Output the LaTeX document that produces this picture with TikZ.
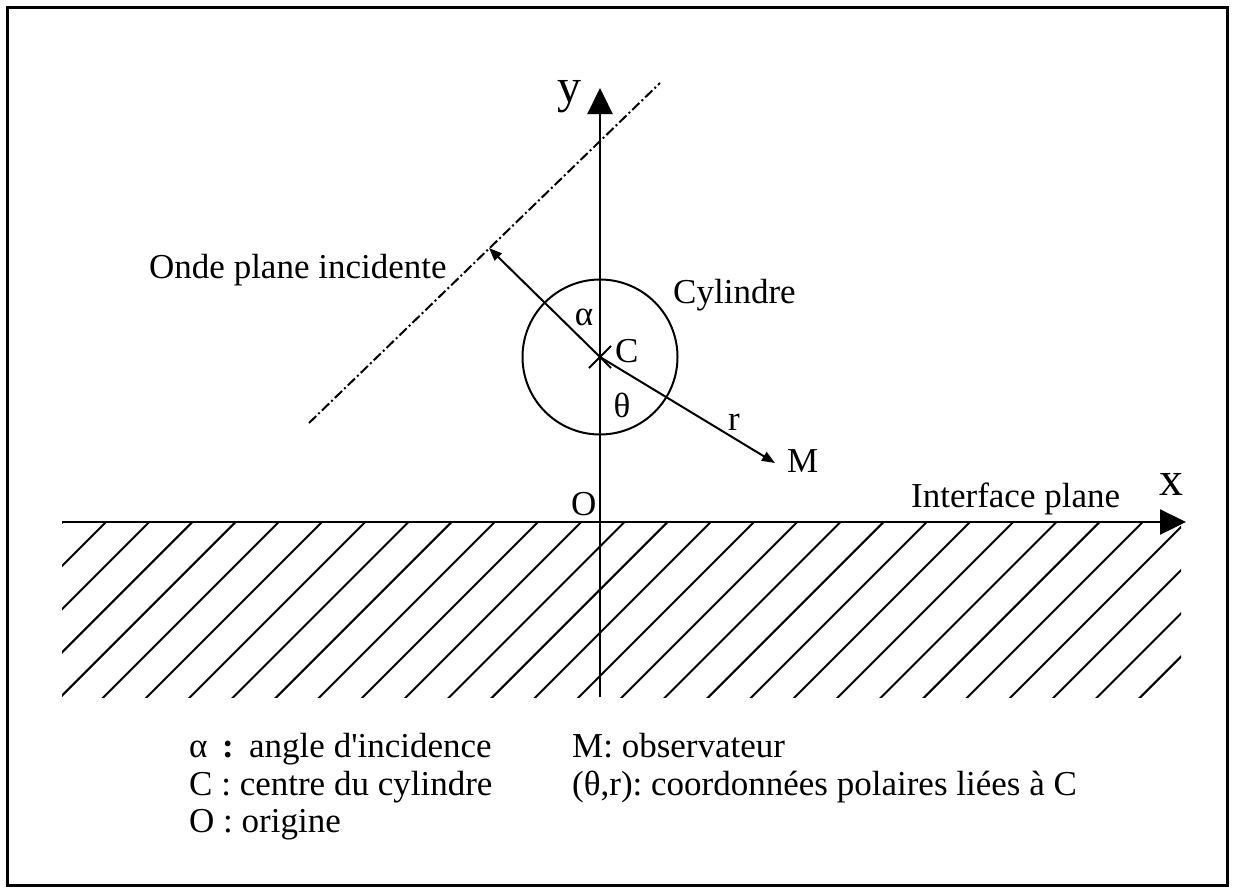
\documentclass[tikz,border=0pt]{standalone}
\usepackage{fontspec}
\setmainfont{Liberation Serif}[Ligatures=TeXOff]
\usetikzlibrary{arrows.meta}
\frenchspacing
\begin{document}
\begin{tikzpicture}[x=1pt,y=-1pt,
  axis/.style={line width=2.4pt,-{Triangle[length=26pt,width=25pt]}},
  hatch/.style={line width=2pt},
  thin/.style={line width=2pt},
  smallarrow/.style={line width=2pt,-{Triangle[length=13pt,width=10pt]}},
  wave/.style={line width=2pt,dash pattern=on 10pt off 3pt on 2pt off 3pt},
  lbl/.style={inner sep=0pt,font=\fontsize{35}{40}\selectfont},
  biglbl/.style={inner sep=0pt,font=\fontsize{48}{52}\selectfont}]
\useasboundingbox (0,0) rectangle (1234,892);
\draw[line width=3pt] (7,7) rectangle (1227,885);
% coordinates
\coordinate (ybot) at (600,697);
\coordinate (ytip) at (600,88);
\coordinate (xl) at (62,522);
\coordinate (xtip) at (1186,522);
\coordinate (C) at (600,357);
\coordinate (W) at (489,248);
\coordinate (Mt) at (775,463);
\coordinate (D1) at (309,423);
\coordinate (D2) at (660,83);
\coordinate (X1) at (589,368);
\coordinate (X2) at (611,346);
\coordinate (X3) at (611,368);
% hatching
\begin{scope}
\clip (62,522) rectangle (1181,697);
\foreach \k in {-5,...,29} \draw[hatch] ({106+43.2*\k},522) -- ++(-180,180);
\end{scope}
% axes
\draw[axis] (xl) -- (xtip);
\draw[axis] (ybot) -- (ytip);
% plane wave
\draw[wave] (D1) -- (D2);
% cylinder
\draw[thin] (C) circle[radius=77.5];
\draw[thin] (X1) -- (X2);
\draw[thin] (C) -- (X3);
\draw[smallarrow] (C) -- (W);
\draw[smallarrow] (C) -- (Mt);
% labels
\node[biglbl,anchor=base] (ylab) at (569,102) {y};
\node[biglbl,anchor=base] (xlab) at (1171,495) {x};
\node[lbl,anchor=base west] (olab) at (571,515) {O};
\node[lbl,anchor=base west] (onde) at (149,278) {Onde plane incidente};
\node[lbl,anchor=base west] (cyl) at (673,303) {Cylindre};
\node[lbl,anchor=base west] (interf) at (911,507) {Interface plane};
\node[lbl,anchor=base] (alab) at (584,325) {α};
\node[lbl,anchor=base west] (clab) at (615,362) {C};
\node[lbl,anchor=base] (tlab) at (622,417) {θ};
\node[lbl,anchor=base] (rlab) at (734,430) {r};
\node[lbl,anchor=base west] (mlab) at (787,472) {M};
% legend
\node[lbl,anchor=base west] (la) at (189,757) {α};
\node[lbl,anchor=base west] (lcolon) at (222,757) {\textbf{:}};
\node[lbl,anchor=base west] (la2) at (249,757) {angle d'incidence};
\node[lbl,anchor=base west] (lc) at (189,795) {C : centre du cylindre};
\node[lbl,anchor=base west] (lo) at (189,832) {O : origine};
\node[lbl,anchor=base west] (lm) at (572,757) {M: observateur};
\node[lbl,anchor=base west] (lp) at (572,795) {(θ,r): coordonnées polaires liées à C};
\end{tikzpicture}
\end{document}
